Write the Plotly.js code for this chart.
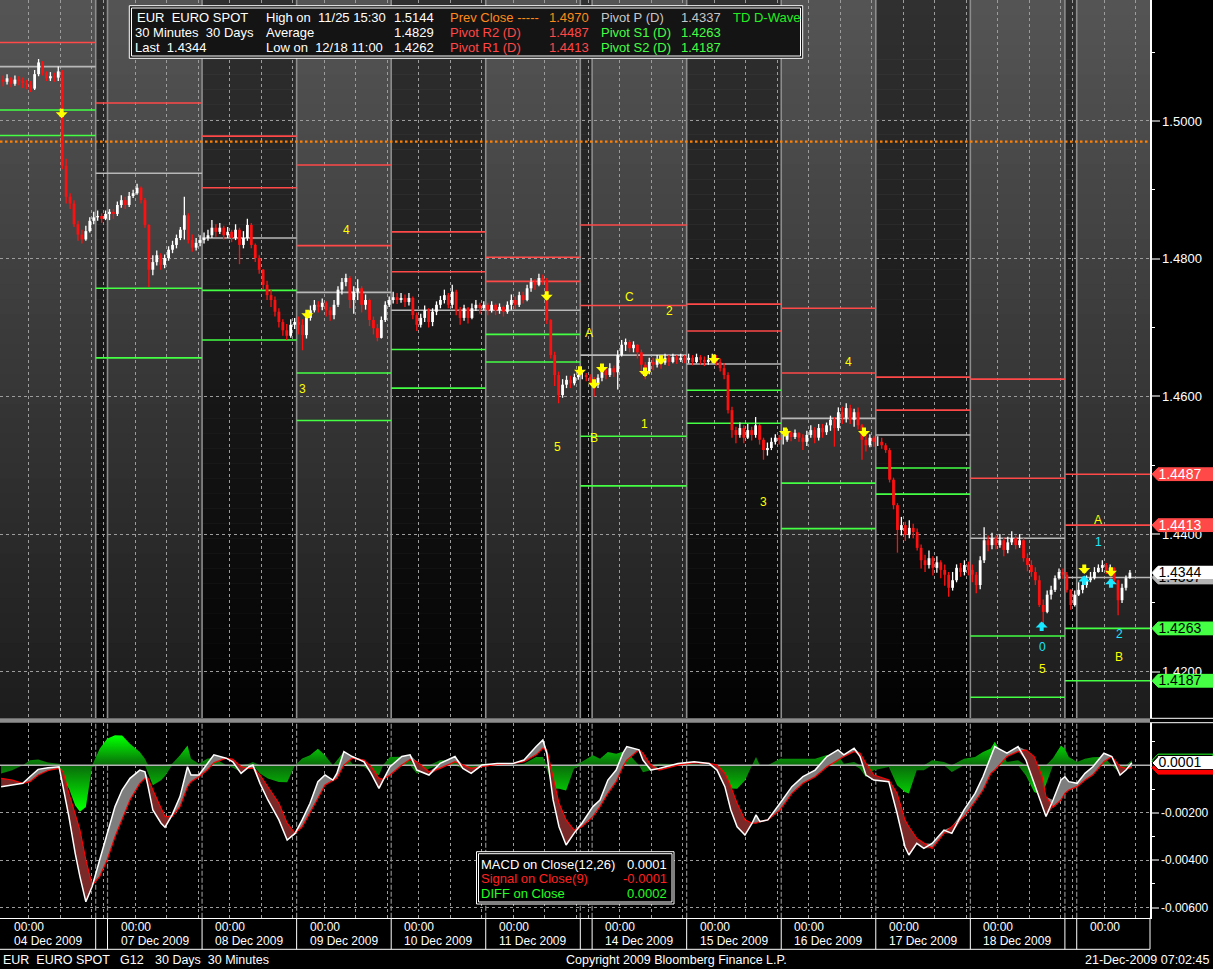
<!DOCTYPE html>
<html>
<head>
<meta charset="utf-8">
<script src="https://cdn.plot.ly/plotly-3.0.1.min.js"></script>
<style>
html,body{margin:0;padding:0;background:#000;overflow:hidden;}
#chart{width:1213px;height:969px;}
</style>
</head>
<body>
<div id="chart"></div>
<script>
// ===================== DATA =====================
// Trading sessions (x axis = session hours, weekends compressed to the Sunday evening hours)
const sessionStartHour  = [0, 24, 27, 51, 75, 99, 123, 147, 150, 174, 198, 222, 246, 270, 273];
const sessionClockStart = [0, 21, 0, 0, 0, 0, 0, 21, 0, 0, 0, 0, 0, 21, 0];
const firstOpen = 1.5060;

// Hourly bars: close / high / low
const closeDec04 = [1.5057,1.5062,1.5054,1.5060,1.5058,1.5055,1.5052,1.5047,1.5068,1.5085,1.5070,1.5062,1.5065,1.5063,1.5072,1.4935,1.4890,1.4880,1.4850,1.4835,1.4828,1.4840,1.4855,1.4860];
const highDec04  = [1.5066,1.5068,1.5064,1.5066,1.5065,1.5063,1.5060,1.5058,1.5074,1.5090,1.5087,1.5072,1.5071,1.5070,1.5079,1.5074,1.4945,1.4895,1.4885,1.4855,1.4842,1.4848,1.4860,1.4868];
const lowDec04   = [1.5050,1.5053,1.5049,1.5051,1.5052,1.5048,1.5046,1.5042,1.5045,1.5065,1.5066,1.5058,1.5058,1.5057,1.5058,1.4930,1.4880,1.4872,1.4846,1.4826,1.4822,1.4826,1.4838,1.4850];
const closeSun06 = [1.4862,1.4858,1.4865];
const highSun06  = [1.4870,1.4866,1.4870];
const lowSun06   = [1.4855,1.4852,1.4856];
const closeDec07 = [1.4868,1.4865,1.4878,1.4885,1.4878,1.4891,1.4895,1.4903,1.4885,1.4849,1.4784,1.4795,1.4805,1.4791,1.4801,1.4813,1.4820,1.4830,1.4842,1.4863,1.4827,1.4816,1.4823,1.4827];
const highDec07  = [1.4872,1.4872,1.4883,1.4892,1.4890,1.4897,1.4900,1.4909,1.4905,1.4888,1.4850,1.4805,1.4812,1.4808,1.4806,1.4818,1.4826,1.4835,1.4846,1.4890,1.4866,1.4835,1.4830,1.4834];
const lowDec07   = [1.4856,1.4858,1.4862,1.4874,1.4872,1.4875,1.4888,1.4893,1.4880,1.4845,1.4759,1.4776,1.4790,1.4784,1.4786,1.4797,1.4808,1.4815,1.4827,1.4828,1.4822,1.4810,1.4812,1.4818];
const closeDec08 = [1.4830,1.4834,1.4845,1.4839,1.4845,1.4834,1.4839,1.4830,1.4842,1.4820,1.4830,1.4849,1.4820,1.4801,1.4784,1.4762,1.4747,1.4740,1.4723,1.4708,1.4696,1.4688,1.4704,1.4708];
const highDec08  = [1.4838,1.4842,1.4856,1.4850,1.4852,1.4848,1.4846,1.4842,1.4850,1.4845,1.4840,1.4858,1.4852,1.4822,1.4805,1.4785,1.4768,1.4755,1.4745,1.4728,1.4712,1.4705,1.4712,1.4714];
const lowDec08   = [1.4822,1.4826,1.4830,1.4832,1.4836,1.4828,1.4830,1.4824,1.4827,1.4792,1.4815,1.4826,1.4815,1.4795,1.4778,1.4756,1.4740,1.4730,1.4716,1.4700,1.4688,1.4682,1.4685,1.4698];
const closeDec09 = [1.4704,1.4689,1.4714,1.4725,1.4733,1.4730,1.4736,1.4725,1.4718,1.4733,1.4755,1.4766,1.4772,1.4740,1.4752,1.4757,1.4733,1.4740,1.4711,1.4699,1.4685,1.4711,1.4733,1.4740];
const highDec09  = [1.4716,1.4712,1.4722,1.4732,1.4740,1.4738,1.4742,1.4738,1.4730,1.4740,1.4760,1.4772,1.4778,1.4775,1.4760,1.4770,1.4760,1.4748,1.4742,1.4716,1.4705,1.4716,1.4738,1.4745];
const lowDec09   = [1.4690,1.4667,1.4684,1.4710,1.4722,1.4722,1.4725,1.4716,1.4710,1.4712,1.4730,1.4748,1.4760,1.4728,1.4720,1.4740,1.4722,1.4726,1.4702,1.4690,1.4680,1.4684,1.4708,1.4730];
const closeDec10 = [1.4744,1.4740,1.4743,1.4737,1.4743,1.4718,1.4704,1.4714,1.4725,1.4708,1.4723,1.4733,1.4740,1.4747,1.4733,1.4752,1.4725,1.4714,1.4728,1.4714,1.4728,1.4733,1.4728,1.4733];
const highDec10  = [1.4752,1.4750,1.4750,1.4748,1.4750,1.4745,1.4722,1.4720,1.4732,1.4728,1.4728,1.4738,1.4746,1.4755,1.4750,1.4762,1.4755,1.4730,1.4733,1.4730,1.4735,1.4740,1.4736,1.4738];
const lowDec10   = [1.4735,1.4734,1.4736,1.4730,1.4732,1.4712,1.4695,1.4700,1.4708,1.4700,1.4702,1.4718,1.4728,1.4735,1.4728,1.4728,1.4718,1.4704,1.4710,1.4706,1.4712,1.4724,1.4720,1.4725];
const closeDec11 = [1.4725,1.4733,1.4725,1.4730,1.4723,1.4733,1.4740,1.4733,1.4747,1.4740,1.4757,1.4766,1.4762,1.4772,1.4769,1.4711,1.4660,1.4631,1.4602,1.4617,1.4624,1.4619,1.4628,1.4631];
const highDec11  = [1.4736,1.4738,1.4735,1.4735,1.4732,1.4738,1.4748,1.4745,1.4752,1.4752,1.4762,1.4772,1.4770,1.4778,1.4777,1.4772,1.4712,1.4665,1.4636,1.4625,1.4630,1.4630,1.4633,1.4635];
const lowDec11   = [1.4718,1.4722,1.4718,1.4720,1.4716,1.4720,1.4726,1.4727,1.4730,1.4735,1.4738,1.4752,1.4755,1.4760,1.4762,1.4705,1.4655,1.4615,1.4590,1.4598,1.4612,1.4612,1.4616,1.4624];
const closeSun13 = [1.4631,1.4628,1.4624];
const highSun13  = [1.4636,1.4634,1.4632];
const lowSun13   = [1.4625,1.4622,1.4618];
const closeDec14 = [1.4617,1.4627,1.4638,1.4631,1.4641,1.4635,1.4660,1.4675,1.4679,1.4670,1.4675,1.4664,1.4646,1.4635,1.4650,1.4646,1.4653,1.4649,1.4656,1.4650,1.4657,1.4653,1.4656,1.4653];
const highDec14  = [1.4628,1.4632,1.4645,1.4642,1.4648,1.4645,1.4667,1.4682,1.4684,1.4682,1.4680,1.4676,1.4668,1.4650,1.4656,1.4656,1.4660,1.4657,1.4662,1.4660,1.4662,1.4660,1.4662,1.4660];
const lowDec14   = [1.4600,1.4612,1.4622,1.4625,1.4628,1.4628,1.4610,1.4658,1.4666,1.4664,1.4664,1.4655,1.4632,1.4625,1.4632,1.4638,1.4642,1.4640,1.4646,1.4644,1.4648,1.4647,1.4650,1.4648];
const closeDec15 = [1.4656,1.4650,1.4657,1.4653,1.4650,1.4653,1.4656,1.4650,1.4641,1.4631,1.4580,1.4551,1.4544,1.4554,1.4540,1.4551,1.4544,1.4558,1.4537,1.4522,1.4525,1.4534,1.4540,1.4537];
const highDec15  = [1.4662,1.4660,1.4662,1.4660,1.4658,1.4660,1.4662,1.4660,1.4655,1.4648,1.4635,1.4585,1.4556,1.4562,1.4558,1.4560,1.4556,1.4570,1.4560,1.4540,1.4533,1.4540,1.4545,1.4544];
const lowDec15   = [1.4648,1.4645,1.4648,1.4646,1.4644,1.4646,1.4648,1.4645,1.4636,1.4625,1.4575,1.4540,1.4532,1.4540,1.4532,1.4538,1.4536,1.4540,1.4530,1.4508,1.4514,1.4522,1.4530,1.4530];
const closeDec16 = [1.4537,1.4548,1.4541,1.4547,1.4540,1.4534,1.4544,1.4551,1.4540,1.4554,1.4548,1.4558,1.4566,1.4554,1.4577,1.4569,1.4583,1.4566,1.4577,1.4558,1.4537,1.4529,1.4540,1.4534];
const highDec16  = [1.4544,1.4553,1.4550,1.4552,1.4548,1.4545,1.4550,1.4558,1.4555,1.4560,1.4560,1.4562,1.4572,1.4570,1.4584,1.4585,1.4590,1.4588,1.4582,1.4584,1.4560,1.4545,1.4545,1.4543];
const lowDec16   = [1.4530,1.4534,1.4535,1.4538,1.4534,1.4522,1.4528,1.4540,1.4532,1.4536,1.4540,1.4544,1.4550,1.4527,1.4550,1.4560,1.4562,1.4560,1.4556,1.4552,1.4508,1.4520,1.4526,1.4527];
const closeDec17 = [1.4534,1.4529,1.4522,1.4479,1.4442,1.4406,1.4413,1.4399,1.4409,1.4403,1.4380,1.4362,1.4355,1.4365,1.4351,1.4359,1.4348,1.4341,1.4322,1.4333,1.4351,1.4345,1.4355,1.4348];
const highDec17  = [1.4542,1.4540,1.4532,1.4525,1.4482,1.4445,1.4425,1.4418,1.4420,1.4415,1.4408,1.4385,1.4370,1.4376,1.4368,1.4368,1.4362,1.4356,1.4345,1.4345,1.4356,1.4358,1.4362,1.4360];
const lowDec17   = [1.4528,1.4524,1.4518,1.4475,1.4436,1.4373,1.4398,1.4390,1.4394,1.4394,1.4376,1.4350,1.4345,1.4350,1.4340,1.4344,1.4336,1.4325,1.4309,1.4318,1.4330,1.4338,1.4340,1.4340];
const closeDec18 = [1.4341,1.4326,1.4362,1.4391,1.4384,1.4394,1.4384,1.4391,1.4377,1.4388,1.4394,1.4384,1.4391,1.4365,1.4355,1.4345,1.4333,1.4297,1.4287,1.4312,1.4319,1.4336,1.4345,1.4341];
const highDec18  = [1.4356,1.4345,1.4368,1.4410,1.4398,1.4402,1.4398,1.4400,1.4395,1.4396,1.4404,1.4398,1.4400,1.4394,1.4372,1.4362,1.4352,1.4340,1.4305,1.4318,1.4325,1.4340,1.4350,1.4350];
const lowDec18   = [1.4330,1.4314,1.4320,1.4358,1.4375,1.4378,1.4378,1.4380,1.4368,1.4372,1.4384,1.4378,1.4380,1.4360,1.4346,1.4338,1.4326,1.4294,1.4268,1.4285,1.4305,1.4316,1.4334,1.4335];
const closeSun20 = [1.4319,1.4297,1.4312];
const highSun20  = [1.4345,1.4320,1.4318];
const lowSun20   = [1.4315,1.4290,1.4295];
const closeDec21 = [1.4319,1.4326,1.4333,1.4336,1.4345,1.4351,1.4355,1.4348,1.4351,1.4333,1.4304,1.4322,1.4336,1.4344];
const highDec21  = [1.4330,1.4334,1.4340,1.4345,1.4352,1.4356,1.4362,1.4358,1.4356,1.4352,1.4334,1.4328,1.4340,1.4348];
const lowDec21   = [1.4310,1.4314,1.4322,1.4330,1.4334,1.4344,1.4345,1.4342,1.4344,1.4328,1.4282,1.4300,1.4318,1.4335];

const sessionCloses = [closeDec04,closeSun06,closeDec07,closeDec08,closeDec09,closeDec10,closeDec11,closeSun13,closeDec14,closeDec15,closeDec16,closeDec17,closeDec18,closeSun20,closeDec21];
const sessionHighs  = [highDec04,highSun06,highDec07,highDec08,highDec09,highDec10,highDec11,highSun13,highDec14,highDec15,highDec16,highDec17,highDec18,highSun20,highDec21];
const sessionLows   = [lowDec04,lowSun06,lowDec07,lowDec08,lowDec09,lowDec10,lowDec11,lowSun13,lowDec14,lowDec15,lowDec16,lowDec17,lowDec18,lowSun20,lowDec21];

// Daily pivot levels (each applies from pivotStartHour until the next one)
const pivotStartHour = [0, 24, 51, 75, 99, 123, 147, 174, 198, 222, 246, 270];
const pivotR2 = [1.5179,1.5192,1.4978,1.4936,1.4839,1.4802,1.4849,1.4734,1.4728,1.4628,1.4625,1.4487];
const pivotR1 = [1.5114,1.5026,1.4903,1.4819,1.4781,1.4767,1.4732,1.4695,1.4634,1.4580,1.4481,1.4413];
const pivotP  = [1.5079,1.4924,1.4830,1.4751,1.4725,1.4725,1.4660,1.4647,1.4568,1.4544,1.4394,1.4337];
const pivotS1 = [1.5016,1.4757,1.4754,1.4634,1.4668,1.4690,1.4542,1.4609,1.4474,1.4496,1.4252,1.4263];
const pivotS2 = [1.4979,1.4656,1.4682,1.4565,1.4612,1.4650,1.4470,1.4561,1.4408,1.4458,1.4163,1.4187];
const prevClose = 1.4970;
const statHigh = 1.5144, statAvg = 1.4829, statLow = 1.4262;

// TD D-Wave signals
const sellArrowHour  = [15.37,77.71,138.47,146.92,150.47,152.50,163.42,167.47,180.93,198.95,219.0,274.91,281.69];
const sellArrowPrice = [1.5004,1.4712,1.4739,1.4630,1.4611,1.4634,1.4628,1.4646,1.4647,1.4541,1.4541,1.4342,1.4338];
const buyArrowHour   = [264.10,274.91,281.69];
const buyArrowPrice  = [1.4273,1.4340,1.4336];
const waveHour  = [87.7,76.4,141.2,149.3,150.4,159.4,169.6,163.4,193.6,215.0,264.3,278.5,283.7];
const wavePrice = [1.48417,1.46103,1.45270,1.46925,1.45400,1.47448,1.47245,1.45595,1.44459,1.46500,1.42036,1.44205,1.42219];
const waveText  = ['4','3','5','A','B','C','2','1','3','4','5','A','B'];
const countHour  = [278.5,264.3,283.8];
const countPrice = [1.43890,1.42365,1.42545];
const countText  = ['1','0','2'];

// MACD (12,26) and signal (9)
const macdHour = [0,2.8,5.5,7.3,9.4,11.9,14.7,15.7,17.2,18.8,
  20.0,21.5,23.1,25.0,26.9,28.9,30.7,32.7,35.2,36.5,
  37.3,38.5,40.6,41.6,43.4,45.4,47.3,48.2,50.2,52.3,
  54.0,57.1,58.8,60.9,62.9,63.9,65.7,67.7,70.5,72.6,
  74.6,76.4,78.4,80.4,82.2,84.2,85.2,87.0,89.1,92.1,
  93.9,95.9,96.9,98.7,101.7,103.8,105.5,108.6,111.4,115.2,
  117.2,119.3,122.0,125.9,129.9,132.7,135.8,137.5,138.5,140.1,
  141.6,143.4,145.4,147.4,150.2,152.0,154.0,156.1,157.8,158.8,
  161.9,162.9,164.9,167.0,171.8,175.9,179.7,181.7,183.7,185.2,
  186.8,188.8,190.6,191.6,192.6,194.6,197.7,200.7,203.5,206.6,
  209.6,212.4,213.9,216.5,218.0,219.5,221.5,225.3,227.4,229.4,
  230.4,232.4,234.2,236.3,239.3,241.3,244.4,247.2,249.2,251.2,
  252.2,255.3,258.1,260.1,262.2,264.2,265.2,267.0,269.0,270.0,
  271.0,273.1,275.1,277.1,279.9,281.9,284.0,285.5,287.0];
const macdValue = [-0.00090,-0.00083,-0.00076,-0.00048,-0.00017,-0.00010,-0.00006,-0.00090,-0.00216,-0.00371,
  -0.00469,-0.00575,-0.00511,-0.00399,-0.00287,-0.00174,-0.00104,-0.00055,-0.00020,-0.00027,
  -0.00090,-0.00188,-0.00244,-0.00261,-0.00209,-0.00132,-0.00006,-0.00041,-0.00041,0.00008,
  0.00044,0.00030,0.00015,-0.00034,-0.00006,0.00001,-0.00076,-0.00146,-0.00230,-0.00315,
  -0.00287,-0.00230,-0.00160,-0.00069,-0.00041,-0.00062,-0.00034,0.00058,0.00037,0.00015,
  -0.00034,-0.00097,-0.00062,-0.00006,0.00037,0.00044,-0.00020,-0.00041,0.00008,0.00037,
  -0.00013,-0.00034,0.00001,0.00008,0.00008,0.00022,0.00079,0.00107,0.00051,-0.00146,
  -0.00259,-0.00336,-0.00287,-0.00244,-0.00174,-0.00146,-0.00062,-0.00020,0.00051,0.00079,
  0.00065,0.00022,-0.00020,-0.00013,0.00008,0.00015,0.00008,-0.00020,-0.00090,-0.00188,
  -0.00259,-0.00294,-0.00244,-0.00209,-0.00237,-0.00230,-0.00160,-0.00090,-0.00048,-0.00020,
  0.00037,0.00065,0.00044,0.00072,0.00037,-0.00041,-0.00062,-0.00069,-0.00202,-0.00343,
  -0.00378,-0.00329,-0.00350,-0.00329,-0.00273,-0.00287,-0.00188,-0.00118,-0.00048,0.00037,
  0.00079,0.00051,0.00079,0.00022,-0.00076,-0.00174,-0.00216,-0.00146,-0.00062,-0.00048,
  -0.00069,-0.00076,-0.00034,-0.00006,0.00051,0.00037,-0.00041,-0.00020,0.00011];
const signalValue = [-0.00055,-0.00062,-0.00076,-0.00069,-0.00041,-0.00022,-0.00013,-0.00027,-0.00118,-0.00202,
  -0.00273,-0.00399,-0.00504,-0.00469,-0.00399,-0.00301,-0.00230,-0.00146,-0.00076,-0.00055,
  -0.00055,-0.00104,-0.00181,-0.00216,-0.00216,-0.00174,-0.00090,-0.00069,-0.00048,-0.00020,
  0.00011,0.00030,0.00025,-0.00006,-0.00013,-0.00013,-0.00041,-0.00090,-0.00160,-0.00244,
  -0.00287,-0.00259,-0.00202,-0.00139,-0.00083,-0.00062,-0.00055,0.00001,0.00030,0.00022,
  -0.00006,-0.00055,-0.00059,-0.00041,0.00001,0.00025,0.00015,-0.00027,-0.00013,0.00015,
  0.00001,-0.00013,-0.00006,0.00004,0.00008,0.00015,0.00044,0.00072,0.00065,-0.00048,
  -0.00160,-0.00230,-0.00273,-0.00259,-0.00216,-0.00174,-0.00118,-0.00069,-0.00006,0.00022,
  0.00065,0.00051,0.00001,-0.00020,0.00001,0.00011,0.00008,0.00001,-0.00034,-0.00090,
  -0.00160,-0.00230,-0.00244,-0.00244,-0.00237,-0.00230,-0.00188,-0.00118,-0.00076,-0.00048,
  -0.00006,0.00022,0.00037,0.00058,0.00051,0.00008,-0.00041,-0.00062,-0.00118,-0.00230,
  -0.00259,-0.00308,-0.00329,-0.00350,-0.00287,-0.00259,-0.00216,-0.00153,-0.00104,-0.00034,
  -0.00020,0.00037,0.00058,0.00065,0.00037,-0.00048,-0.00132,-0.00177,-0.00146,-0.00118,
  -0.00104,-0.00090,-0.00062,-0.00040,0.00015,0.00037,-0.00006,-0.00013,-0.00010];
const macdLast = 0.0001, signalLast = -0.0001, diffLast = 0.0002;

// Axis labels
const priceTicks = [1.42,1.44,1.46,1.48,1.50];
const priceMinorTicks = [1.43,1.45,1.47,1.49,1.51];
const macdTicks = [-0.006,-0.004,-0.002];
const macdMinorTicks = [-0.005,-0.003,-0.001,0.001];
const dayTickHour = [0,27,51,75,99,123,150,174,198,222,246,273];
const dayTickDate = ['04 Dec 2009','07 Dec 2009','08 Dec 2009','09 Dec 2009','10 Dec 2009','11 Dec 2009','14 Dec 2009','15 Dec 2009','16 Dec 2009','17 Dec 2009','18 Dec 2009',''];

// ===================== STYLE / GEOMETRY =====================
const FONT = 'Liberation Sans, Arial, Helvetica, sans-serif';
const FIG_W = 1213, FIG_H = 969, PLOT_W = 1150;
const X_MIN = -0.29, X_MAX = 291.6;
const Y_MIN = 1.41329, Y_MAX = 1.51757;
const M_MIN = -0.006422, M_MAX = 0.001783;
const MAIN_DOM = [1 - 718/FIG_H, 1];
const MACD_DOM = [1 - 917.7/FIG_H, 1 - 723/FIG_H];
const RED = '#ff4848', GREEN = '#44ff44', GRAY = '#b8b8b8', ORANGE = '#ff8a1a', YELLOW = '#ffff00', CYAN = '#19e6ff';
const GRID = '#9c9c9c';
const px = v => v / PLOT_W;
const py = v => 1 - v / FIG_H;
const NB = s => s.replace(/ /g, '\u00a0');
const fmt = v => v.toFixed(4);

// ===================== DERIVED SERIES =====================
const barX = [], barO = [], barH = [], barL = [], barC = [];
let prev = firstOpen;
sessionCloses.forEach((arr, s) => arr.forEach((c, i) => {
  barX.push(sessionStartHour[s] + i + 0.5);
  barO.push(prev); barC.push(c);
  barH.push(sessionHighs[s][i]); barL.push(sessionLows[s][i]);
  prev = c;
}));

const gridHours = [];
for (let h = 0; h <= X_MAX; h++) {
  let s = 0;
  while (s + 1 < sessionStartHour.length && sessionStartHour[s + 1] <= h) s++;
  const clock = sessionClockStart[s] + (h - sessionStartHour[s]);
  if (clock % 8 === 7) gridHours.push(h);
}
const boundaryHours = sessionStartHour.slice(1);
const darkRanges = [];
sessionStartHour.forEach((s, i) => { if (i % 2 === 1) darkRanges.push([s, sessionStartHour[i + 1]]); });

const diffValue = macdValue.map((m, i) => m - signalValue[i]);
const diffPos = diffValue.map(d => Math.max(d, 0));
const diffNeg = diffValue.map(d => Math.min(d, 0));
const upperMS = macdValue.map((m, i) => Math.max(m, signalValue[i]));
const lowerMS = macdValue.map((m, i) => Math.min(m, signalValue[i]));

// ===================== TRACES =====================
function vlines(xs, y0, y1, yaxis, color, width, dash) {
  const x = [], y = [];
  xs.forEach(v => { x.push(v, v, null); y.push(y0, y1, null); });
  return {type:'scatter', mode:'lines', x, y, xaxis:'x', yaxis, line:{color, width, dash}, hoverinfo:'skip'};
}
function pivotTrace(values, color) {
  const x = [], y = [];
  values.forEach((v, i) => {
    const from = i === 0 ? X_MIN : pivotStartHour[i];
    const to = i + 1 < pivotStartHour.length ? pivotStartHour[i + 1] : X_MAX;
    x.push(from, to, null); y.push(v, v, null);
  });
  return {type:'scatter', mode:'lines', x, y, xaxis:'x', yaxis:'y', line:{color, width:1.6}, hoverinfo:'skip'};
}
function barTraces(up, color) {
  const wx = [], wy = [], bx = [], by = [];
  barX.forEach((x, i) => {
    if ((barC[i] >= barO[i]) !== up) return;
    wx.push(x, x, null); wy.push(barL[i], barH[i], null);
    bx.push(x, x, null); by.push(barO[i], barC[i], null);
  });
  return [
    {type:'scatter', mode:'lines', x:wx, y:wy, xaxis:'x', yaxis:'y', line:{color, width:1.3}, hoverinfo:'skip'},
    {type:'scatter', mode:'lines', x:bx, y:by, xaxis:'x', yaxis:'y', line:{color, width:2.8}, hoverinfo:'skip'}
  ];
}

const traces = [
  vlines(boundaryHours, Y_MIN, Y_MAX, 'y', '#8c8c8c', 1.6, 'solid'),
  {type:'scatter', mode:'lines', x:[X_MIN, X_MAX], y:[prevClose, prevClose], xaxis:'x', yaxis:'y', line:{color:'#ff7f00', width:2.2, dash:'2.5px,2.5px'}, hoverinfo:'skip'},
  pivotTrace(pivotR2, RED),
  pivotTrace(pivotR1, RED),
  pivotTrace(pivotP, GRAY),
  pivotTrace(pivotS1, GREEN),
  pivotTrace(pivotS2, GREEN),
  ...barTraces(false, '#ff1010'),
  ...barTraces(true, '#ffffff'),
  // MACD panel
  vlines(boundaryHours, M_MIN, M_MAX, 'y2', '#8c8c8c', 1.2, '5px,2px'),
  {type:'scatter', mode:'lines', x:macdHour, y:diffPos, xaxis:'x', yaxis:'y2', fill:'tozeroy', line:{width:0},
   fillcolor:'#00c000', fillgradient:{type:'vertical', start:0, stop:0.0012, colorscale:[[0,'#0a6a0a'],[1,'#00ff00']]}, hoverinfo:'skip'},
  {type:'scatter', mode:'lines', x:macdHour, y:diffNeg, xaxis:'x', yaxis:'y2', fill:'tozeroy', line:{width:0},
   fillcolor:'#00c000', fillgradient:{type:'vertical', start:-0.0018, stop:0, colorscale:[[0,'#00ff00'],[1,'#0a6a0a']]}, hoverinfo:'skip'},
  {type:'scatter', mode:'lines', x:[X_MIN, X_MAX], y:[0, 0], xaxis:'x', yaxis:'y2', line:{color:'#b4b4b4', width:1.5}, hoverinfo:'skip'},
  {type:'scatter', mode:'lines', x:macdHour, y:signalValue, xaxis:'x', yaxis:'y2', line:{width:0}, hoverinfo:'skip'},
  {type:'scatter', mode:'lines', x:macdHour, y:upperMS, xaxis:'x', yaxis:'y2', fill:'tonexty', fillcolor:'#7e7e7e', line:{width:0}, hoverinfo:'skip'},
  {type:'scatter', mode:'lines', x:macdHour, y:signalValue, xaxis:'x', yaxis:'y2', line:{width:0}, hoverinfo:'skip'},
  {type:'scatter', mode:'lines', x:macdHour, y:lowerMS, xaxis:'x', yaxis:'y2', fill:'tonexty', fillcolor:'#7a2828', line:{width:0}, hoverinfo:'skip'},
  {type:'scatter', mode:'lines', x:macdHour, y:signalValue, xaxis:'x', yaxis:'y2', line:{color:'#ff0000', width:1.2}, hoverinfo:'skip'},
  {type:'scatter', mode:'lines', x:macdHour, y:macdValue, xaxis:'x', yaxis:'y2', line:{color:'#ffffff', width:1.5}, hoverinfo:'skip'}
];

// ===================== SHAPES =====================
const shapes = [];
// background: vertical gradient built from thin stripes (below the grid)
const STRIPES = 48;
const grey = v => { const c = Math.round(v); return 'rgb(' + c + ',' + c + ',' + c + ')'; };
for (let k = 0; k < STRIPES; k++) {
  const y0 = Y_MIN + (Y_MAX - Y_MIN) * k / STRIPES;
  const y1 = Y_MIN + (Y_MAX - Y_MIN) * (k + 1) / STRIPES + 0.0002;
  const t = (k + 0.5) / STRIPES;
  shapes.push({type:'rect', xref:'x', yref:'y', x0:X_MIN, x1:X_MAX, y0, y1, fillcolor:grey(28 + 57 * t), line:{width:0}, layer:'below'});
  let path = '';
  darkRanges.forEach(([a, b]) => { path += 'M' + a + ',' + y0 + ' L' + b + ',' + y0 + ' L' + b + ',' + y1 + ' L' + a + ',' + y1 + ' Z '; });
  shapes.push({type:'path', xref:'x', yref:'y', path, fillcolor:grey(2 + 46 * t), line:{width:0}, layer:'below'});
}
function box(x0, y0, x1, y1, fill, color) {
  shapes.push({type:'rect', xref:'paper', yref:'paper', x0:px(x0), x1:px(x1), y0:py(y1), y1:py(y0),
    fillcolor:fill, line:{color, width:1}, layer:'above'});
}
// header box (double border)
box(129.3, 5.7, 802.7, 58.3, '#141414', '#ffffff');
box(131.5, 8.0, 800.5, 56.0, 'rgba(0,0,0,0)', '#ffffff');
// MACD legend box
box(476.5, 851.7, 674, 904, '#000000', '#ffffff');
box(478.5, 853.7, 672, 902, 'rgba(0,0,0,0)', '#ffffff');
// panel separator
shapes.push({type:'rect', xref:'paper', yref:'paper', x0:0, x1:1, y0:py(722.7), y1:py(718.3), fillcolor:'#8c8c8c', line:{width:0}, layer:'above'});
shapes.push({type:'line', xref:'paper', yref:'paper', x0:1, x1:px(FIG_W), y0:py(718.3), y1:py(718.3), line:{color:'#fff', width:1}, layer:'above'});
shapes.push({type:'line', xref:'paper', yref:'paper', x0:1, x1:px(FIG_W), y0:py(722.7), y1:py(722.7), line:{color:'#fff', width:1}, layer:'above'});
// time band
shapes.push({type:'line', xref:'paper', yref:'paper', x0:0, x1:1, y0:py(949.3), y1:py(949.3), line:{color:'#fff', width:1}, layer:'above'});
shapes.push({type:'line', xref:'paper', yref:'paper', x0:1, x1:1, y0:py(949.3), y1:py(917.7), line:{color:'#fff', width:1}, layer:'above'});
boundaryHours.forEach(h => shapes.push({type:'line', xref:'x', yref:'paper', x0:h, x1:h, y0:py(949.3), y1:py(917.7), line:{color:'#fff', width:1}, layer:'above'}));
// right-axis tag pointers
const TAG_PATH = 'M2,0 L8,6.4 L63,6.4 L63,-6.4 L8,-6.4 Z';
function tag(yref, value, fill, border) {
  shapes.push({type:'path', xref:'paper', yref, xsizemode:'pixel', ysizemode:'pixel', xanchor:1, yanchor:value,
    path:TAG_PATH, fillcolor:fill, line:{color:border || fill, width:1}, layer:'above'});
}
const n = pivotP.length - 1;
const lastPrice = barC[barC.length - 1];
const priceTags = [
  [pivotR2[n], RED, '#ffffff'], [pivotR1[n], RED, '#ffffff'],
  [pivotP[n], '#b4b4b4', '#000000'], [lastPrice, '#ffffff', '#000000'],
  [pivotS1[n], GREEN, '#000000'], [pivotS2[n], GREEN, '#000000']
];
priceTags.forEach(t => tag('y', t[0], t[1]));
tag('y2', diffLast, '#000000', '#22ff22');
tag('y2', signalLast, '#ff0000', '#ff0000');
tag('y2', macdLast, '#ffffff', '#000000');

// ===================== ANNOTATIONS =====================
const ann = [];
function label(x, y, text, color, size, anchor) {
  ann.push({xref:'paper', yref:'paper', x:px(x), y:py(y), text:NB(text), showarrow:false,
    xanchor:anchor || 'left', yanchor:'middle', font:{family:FONT, size:size || 13, color}});
}
// header
const headerCols = [135, 264.3, 391.7, 447.7, 546.7, 598.7, 679, 731];
const headerRowY = [17.3, 32.3, 47.3];
const headerRows = [
  [['EUR  EURO SPOT','#fff'], ['High on  11/25 15:30','#fff'], [fmt(statHigh),'#fff'], ['Prev Close -----',ORANGE], [fmt(prevClose),ORANGE], ['Pivot P (D)','#c8c8c8'], [fmt(pivotP[n]),'#c8c8c8'], ['TD D-Wave','#22ee22']],
  [['30 Minutes  30 Days','#fff'], ['Average','#fff'], [fmt(statAvg),'#fff'], ['Pivot R2 (D)',RED], [fmt(pivotR2[n]),RED], ['Pivot S1 (D)',GREEN], [fmt(pivotS1[n]),GREEN]],
  [['Last  ' + fmt(lastPrice),'#fff'], ['Low on  12/18 11:00','#fff'], [fmt(statLow),'#fff'], ['Pivot R1 (D)',RED], [fmt(pivotR1[n]),RED], ['Pivot S2 (D)',GREEN], [fmt(pivotS2[n]),GREEN]]
];
headerRows.forEach((row, r) => row.forEach((cell, c) => label(headerCols[c] - (c === 0 && r > 0 ? 2.3 : 0), headerRowY[r], cell[0], cell[1], 13)));

// wave counts
waveText.forEach((t, i) => ann.push({xref:'x', yref:'y', x:waveHour[i], y:wavePrice[i], text:t, showarrow:false,
  font:{family:FONT, size:12, color:YELLOW}}));
countText.forEach((t, i) => ann.push({xref:'x', yref:'y', x:countHour[i], y:countPrice[i], text:t, showarrow:false,
  font:{family:FONT, size:12, color:CYAN}}));
// signal arrows
sellArrowHour.forEach((h, i) => ann.push({xref:'x', yref:'y', x:h, y:sellArrowPrice[i], text:'', showarrow:true,
  ax:0, ay:-11, arrowhead:1, arrowsize:0.5, arrowwidth:4, arrowcolor:YELLOW}));
buyArrowHour.forEach((h, i) => ann.push({xref:'x', yref:'y', x:h, y:buyArrowPrice[i], text:'', showarrow:true,
  ax:0, ay:11, arrowhead:1, arrowsize:0.5, arrowwidth:4, arrowcolor:CYAN}));

// time axis labels
dayTickHour.forEach((h, i) => {
  ann.push({xref:'x', yref:'paper', x:h, y:py(926.7), xanchor:'left', yanchor:'middle', xshift:11, text:'00:00', showarrow:false, font:{family:FONT, size:12, color:'#fff'}});
  if (dayTickDate[i]) ann.push({xref:'x', yref:'paper', x:h, y:py(941.3), xanchor:'left', yanchor:'middle', xshift:11, text:NB(dayTickDate[i]), showarrow:false, font:{family:FONT, size:12, color:'#fff'}});
});

// footer
label(1, 959.5, 'EUR  EURO SPOT', '#fff', 12.5);
label(118, 959.5, 'G12', '#fff', 12.5);
label(153, 959.5, '30 Days  30 Minutes', '#fff', 12.5);
label(676, 959.5, 'Copyright 2009 Bloomberg Finance L.P.', '#fff', 12.5, 'center');
ann.push({xref:'paper', yref:'paper', x:px(1211), y:py(959.5), xanchor:'right', yanchor:'middle', text:'21-Dec-2009 07:02:45', showarrow:false, font:{family:FONT, size:12.5, color:'#fff'}});

// MACD legend
const legendRows = [['MACD on Close(12,26)', macdLast, '#ffffff'], ['Signal on Close(9)', signalLast, '#ff2020'], ['DIFF on Close', diffLast, '#22ff22']];
legendRows.forEach((r, i) => {
  const y = 864 + i * 14.65;
  label(479, y, r[0], r[2], 13);
  label(669, y, r[1].toFixed(4), r[2], 13, 'right');
});

// tag texts: boxed annotations (drawn in order, so later tags cover earlier ones)
function tagText(yref, value, text, bg, color) {
  ann.push({xref:'paper', yref, x:px(1158), y:value, xanchor:'left', yanchor:'middle', text, align:'left',
    showarrow:false, bgcolor:bg, width:54, height:12, borderpad:0.4, borderwidth:0,
    font:{family:FONT, size:14, color}});
}
priceTags.forEach(t => tagText('y', t[0], fmt(t[0]), t[1], t[2]));
tagText('y2', macdLast, macdLast.toFixed(4), '#ffffff', '#000000');

// ===================== LAYOUT =====================
const layout = {
  width:FIG_W, height:FIG_H,
  margin:{l:0, r:FIG_W - PLOT_W, t:0, b:0, pad:0},
  paper_bgcolor:'#000000', plot_bgcolor:'#000000',
  showlegend:false, hovermode:false, dragmode:false,
  font:{family:FONT, color:'#ffffff', size:13},
  xaxis:{range:[X_MIN, X_MAX], anchor:'y2', tickvals:gridHours, showticklabels:false, ticks:'',
    showgrid:true, gridcolor:GRID, griddash:'3px,3px', gridwidth:1, zeroline:false,
    showline:true, linecolor:'#ffffff', linewidth:1, fixedrange:true},
  yaxis:{domain:MAIN_DOM, range:[Y_MIN, Y_MAX], anchor:'x', side:'right',
    tickvals:priceTicks, ticktext:priceTicks.map(fmt), ticks:'outside', ticklen:8, tickwidth:2, tickcolor:'#8a8a8a',
    tickfont:{family:FONT, size:13, color:'#ffffff'}, showgrid:true, gridcolor:GRID, griddash:'3px,3px', gridwidth:1, zeroline:false,
    showline:true, linecolor:'#ffffff', linewidth:1.5, fixedrange:true,
    minor:{tickvals:priceMinorTicks, ticks:'outside', ticklen:3, tickwidth:1, tickcolor:'#ffffff', showgrid:false}},
  yaxis2:{domain:MACD_DOM, range:[M_MIN, M_MAX], anchor:'x', side:'right',
    tickvals:macdTicks, ticktext:macdTicks.map(v => '-' + Math.abs(v).toFixed(5)), ticks:'outside', ticklen:7, tickwidth:2, tickcolor:'#8a8a8a',
    tickfont:{family:FONT, size:12, color:'#ffffff'}, showgrid:true, gridcolor:GRID, griddash:'3px,3px', gridwidth:1, zeroline:false,
    showline:true, linecolor:'#ffffff', linewidth:1.5, fixedrange:true,
    minor:{tickvals:macdMinorTicks, ticks:'outside', ticklen:3, tickwidth:1, tickcolor:'#ffffff', showgrid:false}},
  shapes, annotations:ann
};

Plotly.newPlot('chart', traces, layout, {staticPlot:true, displayModeBar:false});
</script>
</body>
</html>
